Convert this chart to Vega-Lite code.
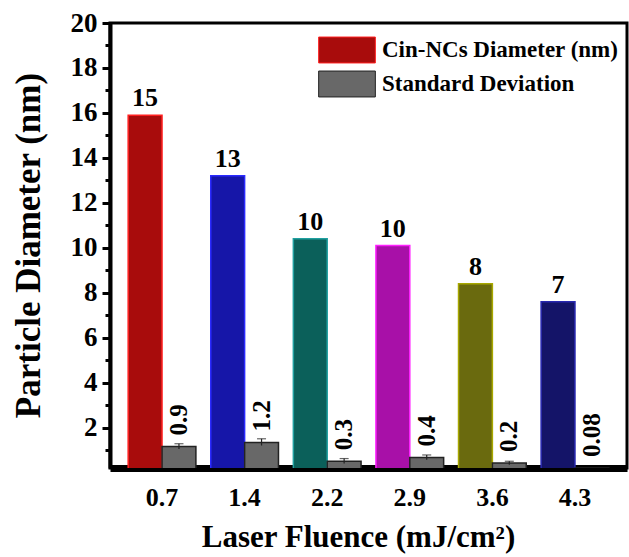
{
  "$schema": "https://vega.github.io/schema/vega-lite/v6.json",
  "width": 517,
  "height": 445,
  "autosize": "none",
  "padding": {"left": 110, "top": 23, "right": 2, "bottom": 89},
  "background": "white",
  "config": {
    "view": {"stroke": "black", "strokeWidth": 3},
    "font": "Liberation Serif, DejaVu Serif, serif",
    "axis": {"labelFont": "Liberation Serif, DejaVu Serif, serif", "titleFont": "Liberation Serif, DejaVu Serif, serif", "labelFontWeight": "bold", "titleFontWeight": "bold", "labelColor": "black", "titleColor": "black", "grid": false}
  },
  "data": {
    "values": [
      {"fluence": "0.7", "series": "cin", "key": "c0.7", "value": 15.9, "label": "15"},
      {"fluence": "1.4", "series": "cin", "key": "c1.4", "value": 13.2, "label": "13"},
      {"fluence": "2.2", "series": "cin", "key": "c2.2", "value": 10.4, "label": "10"},
      {"fluence": "2.9", "series": "cin", "key": "c2.9", "value": 10.1, "label": "10"},
      {"fluence": "3.6", "series": "cin", "key": "c3.6", "value": 8.4, "label": "8"},
      {"fluence": "4.3", "series": "cin", "key": "c4.3", "value": 7.6, "label": "7"},
      {"fluence": "0.7", "series": "sd", "key": "sd", "value": 1.16, "lo": 1.04, "hi": 1.28, "label": "0.9"},
      {"fluence": "1.4", "series": "sd", "key": "sd", "value": 1.33, "lo": 1.2, "hi": 1.5, "label": "1.2"},
      {"fluence": "2.2", "series": "sd", "key": "sd", "value": 0.5, "lo": 0.4, "hi": 0.62, "label": "0.3"},
      {"fluence": "2.9", "series": "sd", "key": "sd", "value": 0.67, "lo": 0.57, "hi": 0.78, "label": "0.4"},
      {"fluence": "3.6", "series": "sd", "key": "sd", "value": 0.42, "lo": 0.35, "hi": 0.5, "label": "0.2"},
      {"fluence": "4.3", "series": "sd", "key": "sd", "value": 0.2, "label": "0.08"}
    ]
  },
  "encoding": {
    "x": {
      "field": "fluence", "type": "nominal",
      "scale": {"paddingInner": 0.18, "paddingOuter": 0.22},
      "axis": {"labelAngle": 0, "labelFontSize": 26, "labelDx": -15, "labelPadding": 16, "ticks": false, "domainWidth": 7, "domainColor": "black", "title": "Laser Fluence (mJ/cm²)", "titleFontSize": 31, "titlePadding": 12, "titleX": 248}
    },
    "xOffset": {"field": "series", "type": "nominal", "scale": {"domain": ["cin", "sd"], "paddingInner": 0}}
  },
  "layer": [
    {
      "mark": {"type": "bar", "clip": true, "strokeWidth": 1.5},
      "encoding": {
        "y": {
          "field": "value", "type": "quantitative",
          "scale": {"domain": [0.2, 20], "zero": false, "nice": false},
          "axis": {"values": [2, 4, 6, 8, 10, 12, 14, 16, 18, 20], "labelFontSize": 27, "labelPadding": 5, "tickSize": 8, "tickWidth": 3, "tickColor": "black", "domainWidth": 4, "domainColor": "black", "title": "Particle Diameter (nm)", "titleFontSize": 35, "titlePadding": 24, "titleY": 222}
        },
        "fill": {
          "field": "key", "type": "nominal",
          "scale": {"domain": ["c0.7", "c1.4", "c2.2", "c2.9", "c3.6", "c4.3", "sd"], "range": ["#a80c0c", "#1616a8", "#0b605a", "#a810a8", "#6a6a0e", "#141468", "#686868"]},
          "legend": {
            "values": ["c0.7", "sd"],
            "labelExpr": "datum.value == 'c0.7' ? 'Cin-NCs Diameter (nm)' : 'Standard Deviation'",
            "title": null,
            "orient": "none", "legendX": 223, "legendY": 13,
            "symbolType": "M-2.1,-0.96H2.1V0.96H-2.1Z", "symbolSize": 729,
            "symbolStrokeColor": "#444", "symbolStrokeWidth": 1,
            "labelFont": "Liberation Serif, DejaVu Serif, serif", "labelFontWeight": "bold", "labelFontSize": 23, "labelColor": "black", "labelOffset": 21,
            "rowPadding": 4, "labelLimit": 400
          }
        },
        "stroke": {
          "field": "key", "type": "nominal",
          "scale": {"domain": ["c0.7", "c1.4", "c2.2", "c2.9", "c3.6", "c4.3", "sd"], "range": ["#ff2020", "#2a2aff", "#20a0a0", "#ff20ff", "#a8a800", "#2828b0", "#222222"]},
          "legend": null
        }
      }
    },
    {
      "mark": {"type": "rule", "color": "#222", "strokeWidth": 1.2},
      "transform": [{"filter": "datum.series == 'sd' && isValid(datum.lo)"}],
      "encoding": {
        "y": {"field": "lo", "type": "quantitative", "axis": null},
        "y2": {"field": "hi"}
      }
    },
    {
      "mark": {"type": "tick", "color": "#222", "thickness": 1.2, "size": 9},
      "transform": [{"filter": "datum.series == 'sd' && isValid(datum.hi)"}],
      "encoding": {
        "y": {"field": "hi", "type": "quantitative", "axis": null}
      }
    },
    {
      "mark": {"type": "text", "font": "Liberation Serif, DejaVu Serif, serif", "fontWeight": "bold", "fontSize": 26, "baseline": "bottom", "dy": -4, "color": "black"},
      "transform": [{"filter": "datum.series == 'cin'"}],
      "encoding": {
        "y": {"field": "value", "type": "quantitative", "axis": null},
        "text": {"field": "label"}
      }
    },
    {
      "mark": {"type": "text", "font": "Liberation Serif, DejaVu Serif, serif", "fontWeight": "bold", "fontSize": 25, "angle": 270, "align": "left", "baseline": "middle", "dx": 11, "color": "black"},
      "transform": [{"filter": "datum.series == 'sd'"}],
      "encoding": {
        "y": {"field": "value", "type": "quantitative", "axis": null},
        "text": {"field": "label"}
      }
    },
    {
      "mark": {"type": "rule", "opacity": 0},
      "encoding": {
        "y": {
          "field": "value", "type": "quantitative",
          "axis": {"values": [1, 3, 5, 7, 9, 11, 13, 15, 17, 19], "labels": false, "domain": false, "tickSize": 5, "tickWidth": 3, "tickColor": "black", "title": null, "orient": "left"}
        }
      }
    }
  ],
  "resolve": {"axis": {"y": "independent"}}
}
